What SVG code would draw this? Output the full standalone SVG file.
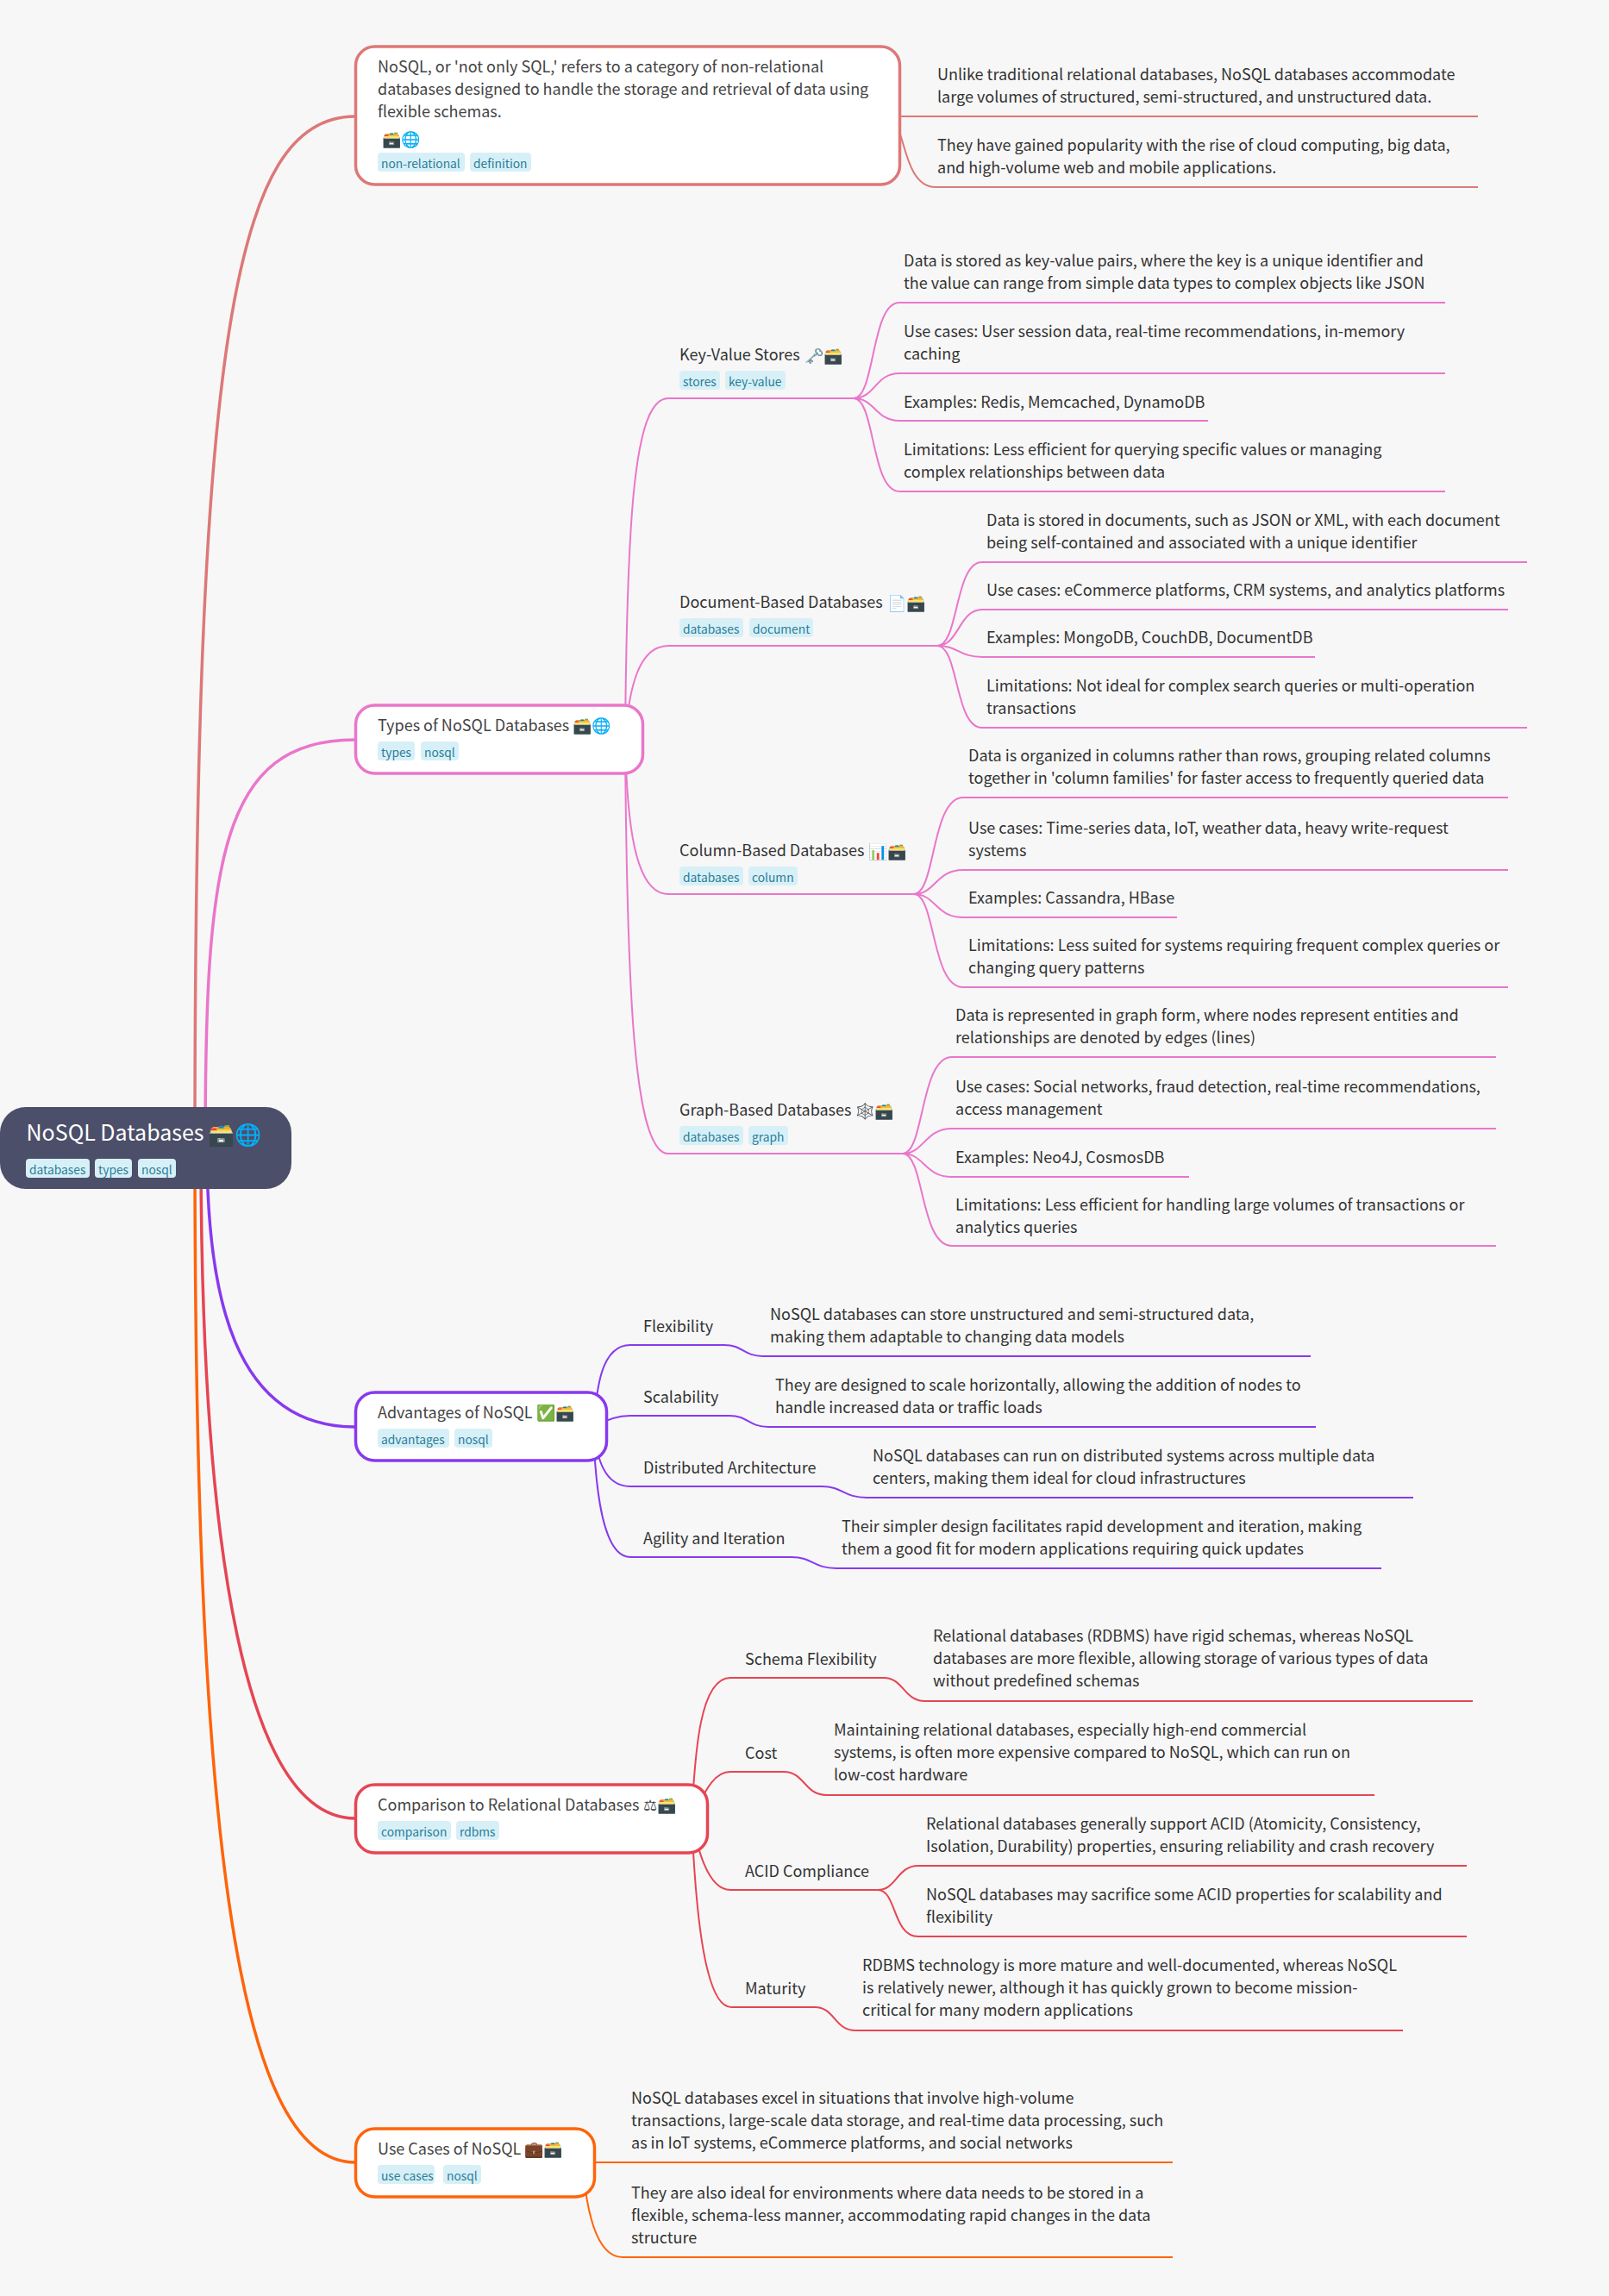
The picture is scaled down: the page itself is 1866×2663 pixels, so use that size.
<svg xmlns="http://www.w3.org/2000/svg" width="1866" height="2663" viewBox="0 0 1866 2663">
<style>
text{font-family:"Noto Sans CJK SC","Noto Sans",sans-serif;font-size:18px;fill:#333}
.e{font-family:"Noto Color Emoji","Noto Sans CJK SC",sans-serif;font-size:18px}
.sc{font-family:"DejaVu Sans",sans-serif;font-size:18px;fill:#444}
.ns{fill:#444;font-size:18px}
.tg{fill:#d7f0f7}
.tt{font-size:13.800px;fill:#2c7d99}
.n{fill:#fff;stroke-width:3.5}
.c path{fill:none}
.m{stroke-width:3.5}
.s{stroke-width:2}
.fl{stroke:#dd7878}.pk{stroke:#ea76cb}.pu{stroke:#8839ef}.ma{stroke:#e64553}.or{stroke:#fe640b}
</style>
<rect width="1866" height="2663" fill="#f7f7f7"/>
<g id="connectors" class="c">
<path class="m fl" d="M226 1331C226 400 270 135 412 135"/>
<path class="m pk" d="M238 1331C238 1000 255 858 412 858"/>
<path class="m pu" d="M240 1331C240 1500 270 1655 412 1655"/>
<path class="m ma" d="M233 1331C233 1800 285 2109 412 2109"/>
<path class="m or" d="M226 1331C226 2100 270 2508 412 2508"/>
<path class="s fl" d="M1030 135H1714"/>
<path class="s fl" d="M1030 135C1050 135 1045 217 1085 217H1714"/>
<path class="s pk" d="M725 858C727 600 735 462 775 462H990"/>
<path class="s pk" d="M725 858C729 800 740 749 775 749H1087"/>
<path class="s pk" d="M725 858C727 950 735 1037 775 1037H1060"/>
<path class="s pk" d="M725 858C727 1150 735 1338 775 1338H1047"/>
<path class="s pk" d="M990 462C1015 462 1010 351 1043 351H1676"/>
<path class="s pk" d="M990 462C1015 462 1015 433 1043 433H1676"/>
<path class="s pk" d="M990 462C1015 462 1015 488 1043 488H1401"/>
<path class="s pk" d="M990 462C1015 462 1010 570 1043 570H1676"/>
<path class="s pk" d="M1087 749C1112 749 1107 652 1139 652H1771"/>
<path class="s pk" d="M1087 749C1112 749 1112 707 1139 707H1749"/>
<path class="s pk" d="M1087 749C1112 749 1112 762 1139 762H1525"/>
<path class="s pk" d="M1087 749C1112 749 1107 844 1139 844H1771"/>
<path class="s pk" d="M1060 1037C1085 1037 1080 925 1117 925H1749"/>
<path class="s pk" d="M1060 1037C1085 1037 1085 1009 1117 1009H1749"/>
<path class="s pk" d="M1060 1037C1085 1037 1085 1064 1117 1064H1365"/>
<path class="s pk" d="M1060 1037C1085 1037 1080 1145 1117 1145H1749"/>
<path class="s pk" d="M1047 1338C1072 1338 1067 1226 1104 1226H1735"/>
<path class="s pk" d="M1047 1338C1072 1338 1072 1309 1104 1309H1735"/>
<path class="s pk" d="M1047 1338C1072 1338 1072 1365 1104 1365H1379"/>
<path class="s pk" d="M1047 1338C1072 1338 1067 1445 1104 1445H1735"/>
<path class="s pu" d="M688 1655C692 1610 697 1560 731 1560H840C862 1560 862 1573 885 1573H1520"/>
<path class="s pu" d="M688 1655C700 1648 715 1642 731 1642H846C868 1642 868 1655 891 1655H1526"/>
<path class="s pu" d="M688 1655C692 1690 700 1724 731 1724H953C978 1724 978 1737 1005 1737H1639"/>
<path class="s pu" d="M688 1655C690 1717 697 1806 731 1806H918C943 1806 943 1819 970 1819H1602"/>
<path class="s ma" d="M802 2109C806 2030 812 1946 847 1946H1025C1048 1946 1048 1973 1073 1973H1708"/>
<path class="s ma" d="M802 2109C815 2085 825 2055 847 2055H909C933 2055 933 2082 958 2082H1594"/>
<path class="s ma" d="M802 2109C808 2140 820 2192 847 2192H1018"/>
<path class="s ma" d="M1018 2192C1040 2192 1040 2164 1065 2164H1701"/>
<path class="s ma" d="M1018 2192C1040 2192 1035 2246 1065 2246H1701"/>
<path class="s ma" d="M802 2109C806 2200 815 2328 848 2328H945C968 2328 968 2355 992 2355H1627"/>
<path class="s or" d="M675 2508H1360"/>
<path class="s or" d="M675 2508C680 2560 690 2618 722 2618H1360"/>
</g>
<g id="root">
<rect x="0" y="1284" width="338" height="95" rx="30" fill="#4c4f69"/>
<text x="30.500" y="1323" style="font-size:25px;fill:#fff">NoSQL Databases</text>
<text class="e" x="241.500" y="1325" style="font-size:25px">🗃️🌐</text>
<rect class="tg" x="30" y="1344" width="74" height="22" rx="4"/><text class="tt" x="34" y="1362">databases</text>
<rect class="tg" x="110" y="1344" width="43" height="22" rx="4"/><text class="tt" x="114" y="1362">types</text>
<rect class="tg" x="160" y="1344" width="44" height="22" rx="4"/><text class="tt" x="164" y="1362">nosql</text>
</g>
<g id="definition">
<rect class="n fl" x="412.500" y="54" width="631" height="160" rx="22"/>
<text class="ns" x="438"><tspan x="438" y="84">NoSQL, or 'not only SQL,' refers to a category of non-relational</tspan><tspan x="438" y="110">databases designed to handle the storage and retrieval of data using</tspan><tspan x="438" y="136">flexible schemas.</tspan></text>
<text class="e" x="443" y="168">🗃️🌐</text>
<rect class="tg" x="438" y="177" width="101" height="22" rx="4"/><text class="tt" x="442" y="195">non-relational</text>
<rect class="tg" x="545" y="177" width="71" height="22" rx="4"/><text class="tt" x="549" y="195">definition</text>
</g>
<g id="definition-1"><text x="1087"><tspan x="1087" y="93">Unlike traditional relational databases, NoSQL databases accommodate</tspan><tspan x="1087" y="119">large volumes of structured, semi-structured, and unstructured data.</tspan></text></g>
<g id="definition-2"><text x="1087"><tspan x="1087" y="175">They have gained popularity with the rise of cloud computing, big data,</tspan><tspan x="1087" y="201">and high-volume web and mobile applications.</tspan></text></g>
<g id="types">
<rect class="n pk" x="412.500" y="818" width="333" height="79" rx="22"/>
<text class="ns" x="438" y="848">Types of NoSQL Databases</text>
<text class="e" x="664" y="848">🗃️🌐</text>
<rect class="tg" x="438" y="860" width="43" height="22" rx="4"/><text class="tt" x="442" y="878">types</text>
<rect class="tg" x="488" y="860" width="44" height="22" rx="4"/><text class="tt" x="492" y="878">nosql</text>
</g>
<g id="key-value">
<text x="788" y="418">Key-Value Stores</text>
<text class="e" x="933" y="419">🗝️🗃️</text>
<rect class="tg" x="788" y="430" width="47" height="22" rx="4"/><text class="tt" x="792" y="448">stores</text>
<rect class="tg" x="841" y="430" width="70" height="22" rx="4"/><text class="tt" x="845" y="448">key-value</text>
</g>
<g id="kv-1"><text><tspan x="1048" y="309">Data is stored as key-value pairs, where the key is a unique identifier and</tspan><tspan x="1048" y="335">the value can range from simple data types to complex objects like JSON</tspan></text></g>
<g id="kv-2"><text><tspan x="1048" y="391">Use cases: User session data, real-time recommendations, in-memory</tspan><tspan x="1048" y="417">caching</tspan></text></g>
<g id="kv-3"><text x="1048" y="473">Examples: Redis, Memcached, DynamoDB</text></g>
<g id="kv-4"><text><tspan x="1048" y="528">Limitations: Less efficient for querying specific values or managing</tspan><tspan x="1048" y="554">complex relationships between data</tspan></text></g>
<g id="document">
<text x="788" y="705">Document-Based Databases</text>
<text class="e" x="1029" y="706">📄🗃️</text>
<rect class="tg" x="788" y="717" width="74" height="22" rx="4"/><text class="tt" x="792" y="735">databases</text>
<rect class="tg" x="869" y="717" width="74" height="22" rx="4"/><text class="tt" x="873" y="735">document</text>
</g>
<g id="doc-1"><text><tspan x="1144" y="610">Data is stored in documents, such as JSON or XML, with each document</tspan><tspan x="1144" y="636">being self-contained and associated with a unique identifier</tspan></text></g>
<g id="doc-2"><text x="1144" y="691">Use cases: eCommerce platforms, CRM systems, and analytics platforms</text></g>
<g id="doc-3"><text x="1144" y="746">Examples: MongoDB, CouchDB, DocumentDB</text></g>
<g id="doc-4"><text><tspan x="1144" y="802">Limitations: Not ideal for complex search queries or multi-operation</tspan><tspan x="1144" y="828">transactions</tspan></text></g>
<g id="column">
<text x="788" y="993">Column-Based Databases</text>
<text class="e" x="1007" y="994">📊🗃️</text>
<rect class="tg" x="788" y="1005" width="74" height="22" rx="4"/><text class="tt" x="792" y="1023">databases</text>
<rect class="tg" x="868" y="1005" width="57" height="22" rx="4"/><text class="tt" x="872" y="1023">column</text>
</g>
<g id="col-1"><text><tspan x="1123" y="883">Data is organized in columns rather than rows, grouping related columns</tspan><tspan x="1123" y="909">together in 'column families' for faster access to frequently queried data</tspan></text></g>
<g id="col-2"><text><tspan x="1123" y="967">Use cases: Time-series data, IoT, weather data, heavy write-request</tspan><tspan x="1123" y="993">systems</tspan></text></g>
<g id="col-3"><text x="1123" y="1048">Examples: Cassandra, HBase</text></g>
<g id="col-4"><text><tspan x="1123" y="1103">Limitations: Less suited for systems requiring frequent complex queries or</tspan><tspan x="1123" y="1129">changing query patterns</tspan></text></g>
<g id="graph">
<text x="788" y="1294">Graph-Based Databases</text>
<text class="e" x="992" y="1295">🕸️🗃️</text>
<rect class="tg" x="788" y="1306" width="74" height="22" rx="4"/><text class="tt" x="792" y="1324">databases</text>
<rect class="tg" x="868" y="1306" width="46" height="22" rx="4"/><text class="tt" x="872" y="1324">graph</text>
</g>
<g id="gr-1"><text><tspan x="1108" y="1184">Data is represented in graph form, where nodes represent entities and</tspan><tspan x="1108" y="1210">relationships are denoted by edges (lines)</tspan></text></g>
<g id="gr-2"><text><tspan x="1108" y="1267">Use cases: Social networks, fraud detection, real-time recommendations,</tspan><tspan x="1108" y="1293">access management</tspan></text></g>
<g id="gr-3"><text x="1108" y="1349">Examples: Neo4J, CosmosDB</text></g>
<g id="gr-4"><text><tspan x="1108" y="1404">Limitations: Less efficient for handling large volumes of transactions or</tspan><tspan x="1108" y="1430">analytics queries</tspan></text></g>
<g id="advantages">
<rect class="n pu" x="412.500" y="1615" width="291" height="79" rx="22"/>
<text class="ns" x="438" y="1645">Advantages of NoSQL</text>
<text class="e" x="622" y="1645">✅🗃️</text>
<rect class="tg" x="438" y="1657" width="83" height="22" rx="4"/><text class="tt" x="442" y="1675">advantages</text>
<rect class="tg" x="527" y="1657" width="44" height="22" rx="4"/><text class="tt" x="531" y="1675">nosql</text>
</g>
<g id="flexibility"><text x="746" y="1545">Flexibility</text></g>
<g id="adv-1"><text><tspan x="893" y="1531">NoSQL databases can store unstructured and semi-structured data,</tspan><tspan x="893" y="1557">making them adaptable to changing data models</tspan></text></g>
<g id="scalability"><text x="746" y="1627">Scalability</text></g>
<g id="adv-2"><text><tspan x="899" y="1613">They are designed to scale horizontally, allowing the addition of nodes to</tspan><tspan x="899" y="1639">handle increased data or traffic loads</tspan></text></g>
<g id="distributed"><text x="746" y="1709">Distributed Architecture</text></g>
<g id="adv-3"><text><tspan x="1012" y="1695">NoSQL databases can run on distributed systems across multiple data</tspan><tspan x="1012" y="1721">centers, making them ideal for cloud infrastructures</tspan></text></g>
<g id="agility"><text x="746" y="1791">Agility and Iteration</text></g>
<g id="adv-4"><text><tspan x="976" y="1777">Their simpler design facilitates rapid development and iteration, making</tspan><tspan x="976" y="1803">them a good fit for modern applications requiring quick updates</tspan></text></g>
<g id="comparison">
<rect class="n ma" x="412.500" y="2070" width="408" height="79" rx="22"/>
<text class="ns" x="438" y="2100">Comparison to Relational Databases</text>
<text class="sc" x="746" y="2100">⚖</text>
<text class="e" x="762" y="2100">🗃️</text>
<rect class="tg" x="438" y="2112" width="85" height="22" rx="4"/><text class="tt" x="442" y="2130">comparison</text>
<rect class="tg" x="529" y="2112" width="50" height="22" rx="4"/><text class="tt" x="533" y="2130">rdbms</text>
</g>
<g id="schema"><text x="864" y="1931">Schema Flexibility</text></g>
<g id="cmp-1"><text><tspan x="1082" y="1904">Relational databases (RDBMS) have rigid schemas, whereas NoSQL</tspan><tspan x="1082" y="1930">databases are more flexible, allowing storage of various types of data</tspan><tspan x="1082" y="1956">without predefined schemas</tspan></text></g>
<g id="cost"><text x="864" y="2040">Cost</text></g>
<g id="cmp-2"><text><tspan x="967" y="2013">Maintaining relational databases, especially high-end commercial</tspan><tspan x="967" y="2039">systems, is often more expensive compared to NoSQL, which can run on</tspan><tspan x="967" y="2065">low-cost hardware</tspan></text></g>
<g id="acid"><text x="864" y="2177">ACID Compliance</text></g>
<g id="cmp-3"><text><tspan x="1074" y="2122">Relational databases generally support ACID (Atomicity, Consistency,</tspan><tspan x="1074" y="2148">Isolation, Durability) properties, ensuring reliability and crash recovery</tspan></text></g>
<g id="cmp-4"><text><tspan x="1074" y="2204">NoSQL databases may sacrifice some ACID properties for scalability and</tspan><tspan x="1074" y="2230">flexibility</tspan></text></g>
<g id="maturity"><text x="864" y="2313">Maturity</text></g>
<g id="cmp-5"><text><tspan x="1000" y="2286">RDBMS technology is more mature and well-documented, whereas NoSQL</tspan><tspan x="1000" y="2312">is relatively newer, although it has quickly grown to become mission-</tspan><tspan x="1000" y="2338">critical for many modern applications</tspan></text></g>
<g id="use-cases">
<rect class="n or" x="412.500" y="2469" width="277" height="79" rx="22"/>
<text class="ns" x="438" y="2499">Use Cases of NoSQL</text>
<text class="e" x="608" y="2499">💼🗃️</text>
<rect class="tg" x="438" y="2511" width="66" height="22" rx="4"/><text class="tt" x="442" y="2529">use cases</text>
<rect class="tg" x="514" y="2511" width="44" height="22" rx="4"/><text class="tt" x="518" y="2529">nosql</text>
</g>
<g id="use-1"><text><tspan x="732" y="2440">NoSQL databases excel in situations that involve high-volume</tspan><tspan x="732" y="2466">transactions, large-scale data storage, and real-time data processing, such</tspan><tspan x="732" y="2492">as in IoT systems, eCommerce platforms, and social networks</tspan></text></g>
<g id="use-2"><text><tspan x="732" y="2550">They are also ideal for environments where data needs to be stored in a</tspan><tspan x="732" y="2576">flexible, schema-less manner, accommodating rapid changes in the data</tspan><tspan x="732" y="2602">structure</tspan></text></g>
</svg>
